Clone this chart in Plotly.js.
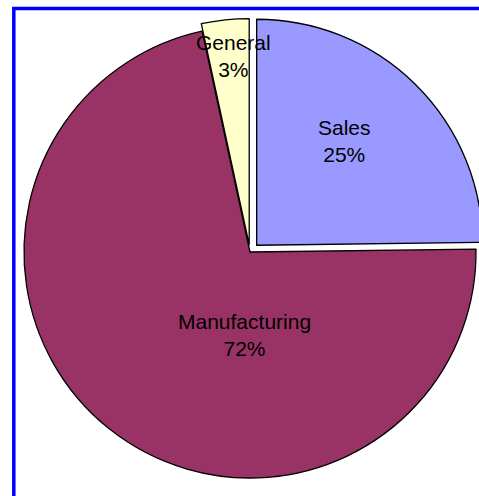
<!DOCTYPE html>
<html>
<head>
<meta charset="utf-8">
<script src="https://cdn.plot.ly/plotly-3.0.1.min.js"></script>
<style>
  html, body { margin: 0; padding: 0; background: #fff; overflow: hidden; }
  #wrap { width: 479px; height: 496px; overflow: hidden; position: relative; }
  #chart { width: 500px; height: 496px; }
</style>
</head>
<body>
<div id="wrap"><div id="chart"></div></div>
<script>
// Data
const categories = ["Sales", "Manufacturing", "General"];
const values = [24.8, 71.8, 3.4];
const sliceColors = ["#9999FF", "#993366", "#FFFFCC"];
const pulls = [0.042, 0, 0.033];

// Label placement (pixel centres of each label block, as in the reference)
const W = 500, H = 496;
const labelPos = [[344, 141], [244, 335], [233, 56]];

const total = values.reduce((a, b) => a + b, 0);
const annotations = categories.map((c, i) => ({
  xref: "paper", yref: "paper",
  x: labelPos[i][0] / W, y: 1 - labelPos[i][1] / H,
  xanchor: "center", yanchor: "middle",
  text: c + "<br>" + Math.round(values[i] / total * 100) + "%",
  showarrow: false,
  font: { family: "Liberation Sans, Arial, sans-serif", size: 21, color: "#000" }
}));

const cx = 250, cy = 252, R = 226 * (1 + Math.max(...pulls));

const trace = {
  type: "pie",
  labels: categories,
  values: values,
  sort: false,
  direction: "clockwise",
  rotation: 0,
  pull: pulls,
  marker: { colors: sliceColors, line: { color: "#000", width: 1.3 } },
  textinfo: "none",
  textposition: "none",
  hoverinfo: "label+percent",
  domain: { x: [(cx - R) / W, (cx + R) / W], y: [(H - cy - R) / H, (H - cy + R) / H] },
  showlegend: false
};

const layout = {
  width: W, height: H,
  margin: { l: 0, r: 0, t: 0, b: 0, pad: 0 },
  paper_bgcolor: "#fff",
  showlegend: false,
  annotations: annotations,
  shapes: [{
    type: "rect", xref: "paper", yref: "paper",
    x0: 13.8 / W, x1: 1.3, y0: -0.3, y1: 1 - 8.5 / H,
    line: { color: "#0000FF", width: 3.5 }, fillcolor: "rgba(0,0,0,0)"
  }]
};

Plotly.newPlot("chart", [trace], layout, { displayModeBar: false, staticPlot: true });
</script>
</body>
</html>
